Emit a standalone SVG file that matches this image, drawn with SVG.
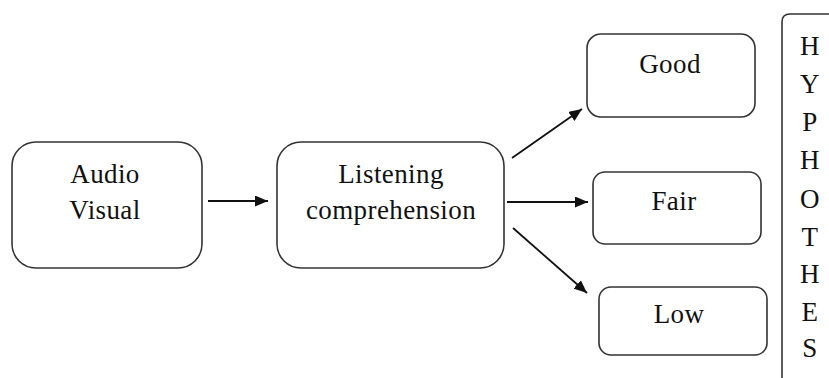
<svg xmlns="http://www.w3.org/2000/svg" width="829" height="378" viewBox="0 0 829 378">
<style>
.box{fill:#fff;stroke:#333;stroke-width:1.6}
.t{font-family:"Liberation Serif","Times New Roman",serif;font-size:27px;letter-spacing:0.4px;fill:#111;text-anchor:middle}
.c{stroke:#111;stroke-width:1.8;fill:none}
</style>
<defs>
<marker id="ah" viewBox="0 0 13 11" refX="13" refY="5.5" markerWidth="13" markerHeight="11" markerUnits="userSpaceOnUse" orient="auto">
<path d="M0,0 L13,5.5 L0,11 Z" fill="#111"/>
</marker>
</defs>
<rect width="829" height="378" fill="#fff"/>
<g id="audio-visual">
<rect class="box" x="12" y="142" width="190" height="126" rx="24"/>
<text class="t" x="105" y="183">Audio</text>
<text class="t" x="105" y="219">Visual</text>
</g>
<g id="listening">
<rect class="box" x="277" y="142" width="227" height="126" rx="24"/>
<text class="t" x="391" y="183">Listening</text>
<text class="t" x="391" y="219">comprehension</text>
</g>
<g id="good">
<rect class="box" x="587" y="34" width="168" height="83" rx="14"/>
<text class="t" x="670" y="73">Good</text>
</g>
<g id="fair">
<rect class="box" x="593" y="172" width="168" height="72" rx="12"/>
<text class="t" x="674" y="210">Fair</text>
</g>
<g id="low">
<rect class="box" x="599" y="287" width="168" height="68" rx="12"/>
<text class="t" x="679" y="323">Low</text>
</g>
<g id="hypotheses">
<path class="box" d="M782,378 V22 Q782,14 790,14 H829" fill="none"/>
<text class="t" x="810" y="55">H</text>
<text class="t" x="810" y="93">Y</text>
<text class="t" x="810" y="131">P</text>
<text class="t" x="810" y="169">H</text>
<text class="t" x="810" y="208">O</text>
<text class="t" x="810" y="246">T</text>
<text class="t" x="810" y="283">H</text>
<text class="t" x="810" y="321">E</text>
<text class="t" x="810" y="357">S</text>
</g>
<g id="connectors">
<line class="c" x1="208" y1="201" x2="268" y2="201" marker-end="url(#ah)"/>
<line class="c" x1="512" y1="158" x2="582" y2="109" marker-end="url(#ah)"/>
<line class="c" x1="507" y1="202" x2="588" y2="202" marker-end="url(#ah)"/>
<line class="c" x1="513" y1="228" x2="587" y2="293" marker-end="url(#ah)"/>
</g>
</svg>
